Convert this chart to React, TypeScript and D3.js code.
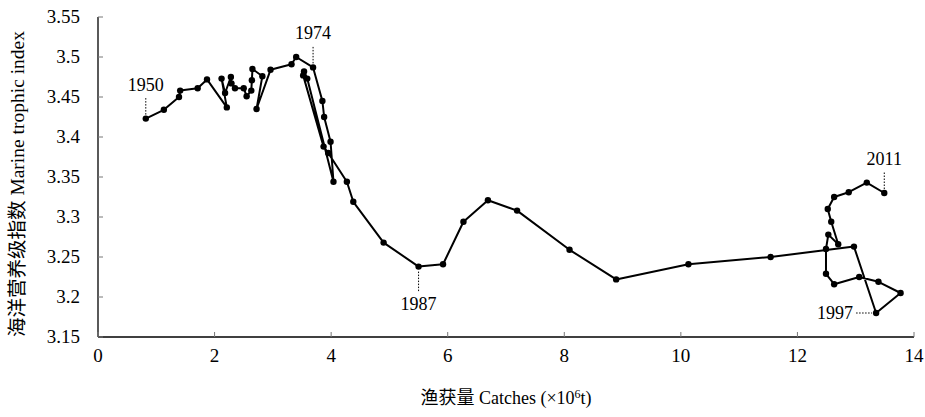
import * as d3 from "d3";

// catches (x10^6 t) and marine trophic index, 1950 -> 2011 in path order
const catches = [
  0.82, 1.13, 1.39, 1.41, 1.71, 1.87, 2.21, 2.12, 2.18, 2.28, 2.29, 2.35, 2.5, 2.55, 2.63, 2.64, 2.65, 2.82, 2.72, 2.96, 3.32, 3.4, 3.69,
  3.85, 3.88, 3.99, 4.04, 3.59, 3.535, 3.52, 3.87, 3.95, 4.27, 4.38, 4.9,
  5.5, 5.92, 6.27, 6.69, 7.19, 8.09, 8.89, 10.13, 11.54, 12.97,
  13.35, 13.77, 13.39, 13.06, 12.63, 12.49, 12.49, 12.53, 12.7, 12.58, 12.52, 12.63, 12.88, 13.19, 13.49,
];
const mti = [
  3.423, 3.434, 3.45, 3.458, 3.461, 3.472, 3.437, 3.473, 3.455, 3.475, 3.467, 3.461, 3.461, 3.451, 3.458, 3.471, 3.485, 3.476, 3.435, 3.484, 3.491, 3.5, 3.487,
  3.445, 3.425, 3.394, 3.344, 3.473, 3.482, 3.477, 3.388, 3.38, 3.344, 3.319, 3.268,
  3.238, 3.241, 3.294, 3.321, 3.308, 3.259, 3.222, 3.241, 3.25, 3.263,
  3.18, 3.205, 3.219, 3.225, 3.216, 3.229, 3.26, 3.278, 3.266, 3.294, 3.31, 3.325, 3.331, 3.343, 3.33,
];
const xTicks = ["0", "2", "4", "6", "8", "10", "12", "14"];
const yTicks = ["3.15", "3.2", "3.25", "3.3", "3.35", "3.4", "3.45", "3.5", "3.55"];
const yearLabels = ["1950", "1974", "1987", "1997", "2011"];
const yearIndex = [0, 22, 35, 45, 59];

const tickStyle = { fontFamily: "'Liberation Serif', serif", fontSize: "19px" };
const yearStyle = { fontFamily: "'Liberation Serif', serif", fontSize: "18px" };
const titleStyle = { fontFamily: "'Liberation Serif', 'Noto Sans CJK SC', serif" };

export default function App() {
  const W = 925;
  const H = 417;
  const x = d3.scaleLinear().domain([0, 14]).range([98, 914]);
  const y = d3.scaleLinear().domain([3.15, 3.55]).range([337, 17]);
  const pts = catches.map((c, i) => [x(c), y(mti[i])] as [number, number]);
  const path = d3.line()(pts)!;

  return (
    <svg width={W} height={H} style={{ position: "absolute", left: 0, top: 0, background: "#fff" }}>
      {/* axes */}
      <line x1={x(0)} y1={y(3.55)} x2={x(0)} y2={y(3.15)} stroke="#000" strokeWidth={1.3} />
      <line x1={x(0)} y1={y(3.15)} x2={x(14)} y2={y(3.15)} stroke="#000" strokeWidth={1.3} />
      {yTicks.map((t) => (
        <g key={t}>
          <line x1={x(0)} x2={x(0) + 5} y1={y(+t)} y2={y(+t)} stroke="#777" />
          <text x={80} y={y(+t) + 6} textAnchor="end" style={tickStyle}>{t}</text>
        </g>
      ))}
      {xTicks.map((t) => (
        <g key={t}>
          <line x1={x(+t)} x2={x(+t)} y1={y(3.15)} y2={y(3.15) - 5} stroke="#777" />
          <text x={x(+t)} y={y(3.15) + 25} textAnchor="middle" style={tickStyle}>{t}</text>
        </g>
      ))}

      <path d={path} fill="none" stroke="#000" strokeWidth={2} strokeLinejoin="round" />
      {pts.map((p, i) => (
        <circle key={i} cx={p[0]} cy={p[1]} r={3.2} fill="#000" />
      ))}

      {/* year annotations */}
      {yearIndex.map((idx, k) => {
        const [px, py] = pts[idx];
        const lab = yearLabels[k];
        if (lab === "1987") {
          return (
            <g key={lab}>
              <line x1={px} x2={px} y1={py + 5} y2={py + 25} stroke="#000" strokeDasharray="1.5,1.5" />
              <text x={px} y={py + 43} textAnchor="middle" style={yearStyle}>{lab}</text>
            </g>
          );
        }
        if (lab === "1997") {
          return (
            <g key={lab}>
              <line x1={px - 20} x2={px - 4} y1={py} y2={py} stroke="#000" strokeDasharray="1.5,1.5" />
              <text x={px - 23} y={py + 6} textAnchor="end" style={yearStyle}>{lab}</text>
            </g>
          );
        }
        return (
          <g key={lab}>
            <line x1={px} x2={px} y1={py - 4} y2={py - 22} stroke="#000" strokeDasharray="1.5,1.5" />
            <text x={px} y={py - 28} textAnchor="middle" style={yearStyle}>{lab}</text>
          </g>
        );
      })}

      {/* axis titles */}
      <text transform={`translate(24,184) rotate(-90)`} textAnchor="middle" style={{ ...titleStyle, fontSize: "19.5px" }}>
        海洋营养级指数 Marine trophic index
      </text>
      <text x={(x(0) + x(14)) / 2} y={404} textAnchor="middle" style={{ ...titleStyle, fontSize: "18px" }}>
        渔获量 Catches (×10<tspan style={{ fontSize: "12px" }} dy={-6}>6</tspan><tspan dy={6}>t)</tspan>
      </text>
    </svg>
  );
}
